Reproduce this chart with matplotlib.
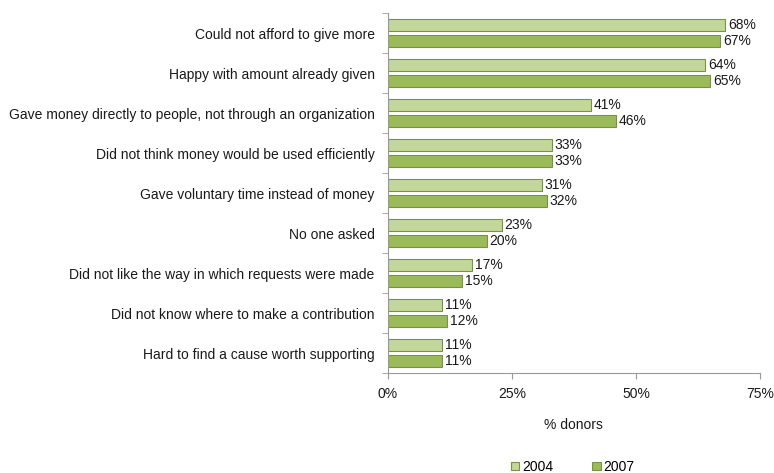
import numpy as np
from matplotlib import pyplot as plt

# Reasons for not giving more, share of donors
reasons = [
    "Could not afford to give more",
    "Happy with amount already given",
    "Gave money directly to people, not through an organization",
    "Did not think money would be used efficiently",
    "Gave voluntary time instead of money",
    "No one asked",
    "Did not like the way in which requests were made",
    "Did not know where to make a contribution",
    "Hard to find a cause worth supporting",
]
pct_2004 = [68, 64, 41, 33, 31, 23, 17, 11, 11]
pct_2007 = [67, 65, 46, 33, 32, 20, 15, 12, 11]
x_ticks = [0, 25, 50, 75]


def main():
    plt.rcParams['font.family'] = ['Liberation Sans', 'DejaVu Sans']
    fs = 10
    txt = '#1a1a1a'

    fig = plt.figure(figsize=(7.74, 4.73), dpi=100)
    ax = fig.add_axes([0.501, 0.2114, 0.481, 0.761])

    pos = np.arange(len(reasons))
    h = 0.29
    edge = '#77933C'
    b1 = ax.barh(pos - 0.2, pct_2004, height=h, color='#C4D79B', edgecolor=edge, linewidth=0.8, label='2004')
    b2 = ax.barh(pos + 0.2, pct_2007, height=h, color='#9BBB59', edgecolor=edge, linewidth=0.8, label='2007')

    for bars, vals in ((b1, pct_2004), (b2, pct_2007)):
        for bar, v in zip(bars, vals):
            ax.text(v + 0.5, bar.get_y() + bar.get_height() / 2, f"{v}%",
                    va='center', ha='left', fontsize=fs, color=txt)

    ax.set_ylim(len(reasons) - 0.5, -0.5)
    ax.set_xlim(0, 75)

    # category labels in the middle, tick marks between groups
    ax.set_yticks(pos)
    ax.set_yticklabels(reasons, fontsize=fs, color=txt)
    ax.tick_params(axis='y', length=0, pad=9.5)
    ax.set_yticks(np.arange(len(reasons) + 1) - 0.5, minor=True)
    ax.tick_params(axis='y', which='minor', length=4, color='#999999', direction='out')

    ax.set_xticks(x_ticks)
    ax.set_xticklabels([f"{t}%" for t in x_ticks], fontsize=fs, color=txt)
    ax.tick_params(axis='x', length=4, color='#999999', direction='out', pad=6)
    ax.set_xlabel("% donors", fontsize=fs, color=txt, labelpad=12)

    for side in ('top', 'right'):
        ax.spines[side].set_visible(False)
    for side in ('left', 'bottom'):
        ax.spines[side].set_color('#999999')
        ax.spines[side].set_linewidth(0.8)

    fig.legend(handles=[b1, b2], loc='center', bbox_to_anchor=(0.74, 0.013), ncol=2,
               frameon=False, fontsize=fs, handlelength=0.6, handleheight=0.6,
               handletextpad=0.2, columnspacing=2.8, borderpad=0)

    fig.savefig("out.png", dpi=100)


if __name__ == "__main__":
    main()
